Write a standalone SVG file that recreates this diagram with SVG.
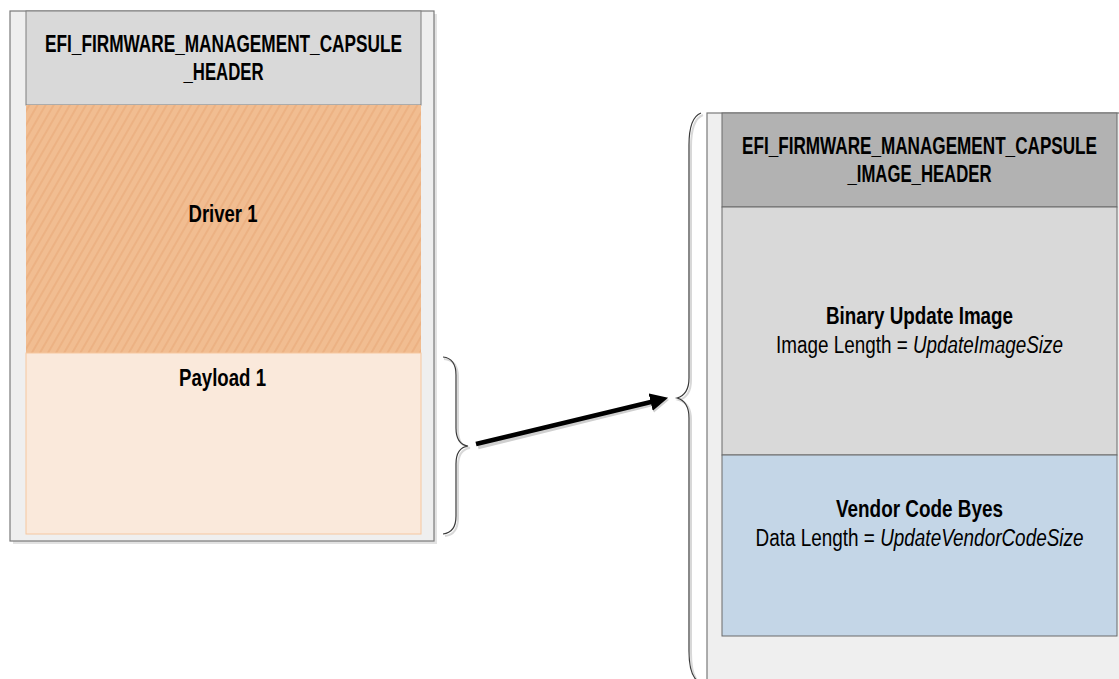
<svg xmlns="http://www.w3.org/2000/svg" width="1119" height="679" viewBox="0 0 1119 679">
<style>
.t{font-family:"Liberation Sans",Arial,sans-serif;font-size:24px;fill:#000;text-anchor:middle}
.b{font-weight:bold}
.r{font-size:23px}
.i{font-style:italic}
.outer{fill:#efefef;stroke:#7a7a7a;stroke-width:1.2}
.shadow{fill:#cfcfcf;opacity:0.6}
.brace{fill:none;stroke:#3a3a3a;stroke-width:1.2}
.braceSh{fill:none;stroke:#d8d8d8;stroke-width:2}
</style>
<defs>
<pattern id="hatch" patternUnits="userSpaceOnUse" width="7" height="12" patternTransform="rotate(30)">
<rect width="7" height="12" fill="#f1bd91"/>
<line x1="1" y1="0" x2="1" y2="12" stroke="#e8a877" stroke-width="1.6" opacity="0.7"/>
</pattern>
<marker id="ah" markerWidth="4" markerHeight="4" refX="1" refY="2" orient="auto" markerUnits="strokeWidth">
<path d="M0,0 L4,2 L0,4 Z" fill="#000"/>
</marker>
<marker id="ahs" markerWidth="4" markerHeight="4" refX="1" refY="2" orient="auto" markerUnits="strokeWidth">
<path d="M0,0 L4,2 L0,4 Z" fill="#cfcfcf"/>
</marker>
</defs>

<g id="capsule">
<rect class="shadow" x="13" y="14" width="424" height="530"/>
<rect class="outer" x="10" y="11" width="424" height="530"/>
<g id="capsule-header">
<rect x="26" y="11" width="395" height="94" fill="#d9d9d9" stroke="#7f7f7f" stroke-width="1"/>
<text class="t b" x="223.5" y="52" textLength="357" lengthAdjust="spacingAndGlyphs">EFI_FIRMWARE_MANAGEMENT_CAPSULE</text>
<text class="t b" x="223.5" y="80" textLength="80" lengthAdjust="spacingAndGlyphs">_HEADER</text>
</g>
<g id="driver1">
<rect x="26" y="105" width="395" height="248" fill="url(#hatch)"/>
<text class="t b" x="223" y="222" textLength="69" lengthAdjust="spacingAndGlyphs">Driver 1</text>
</g>
<g id="payload1">
<rect x="26" y="353" width="395" height="181" fill="#fae9db" stroke="#f6c7a0" stroke-width="1"/>
<text class="t b" x="222.5" y="386" textLength="87" lengthAdjust="spacingAndGlyphs">Payload 1</text>
</g>
</g>

<g id="image">
<rect class="outer" x="707" y="113" width="420" height="580"/>
<g id="image-header">
<rect x="722" y="113" width="395" height="94" fill="#b2b2b2" stroke="#6a6a6a" stroke-width="1"/>
<text class="t b" x="919.5" y="154" textLength="355" lengthAdjust="spacingAndGlyphs">EFI_FIRMWARE_MANAGEMENT_CAPSULE</text>
<text class="t b" x="919.5" y="182" textLength="144" lengthAdjust="spacingAndGlyphs">_IMAGE_HEADER</text>
</g>
<g id="binary">
<rect x="722" y="207" width="395" height="248" fill="#d9d9d9" stroke="#6a6a6a" stroke-width="1"/>
<text class="t b" x="919.5" y="324" textLength="187" lengthAdjust="spacingAndGlyphs">Binary Update Image</text>
<text class="t r" x="919.5" y="353" textLength="287" lengthAdjust="spacingAndGlyphs">Image Length = <tspan class="i">UpdateImageSize</tspan></text>
</g>
<g id="vendor">
<rect x="722" y="455" width="395" height="181" fill="#c4d6e7" stroke="#6a6a6a" stroke-width="1"/>
<text class="t b" x="919.5" y="517" textLength="167" lengthAdjust="spacingAndGlyphs">Vendor Code Byes</text>
<text class="t r" x="919.5" y="546" textLength="328" lengthAdjust="spacingAndGlyphs">Data Length = <tspan class="i">UpdateVendorCodeSize</tspan></text>
</g>
</g>

<g id="connectors">
<path class="braceSh" d="M444,359 C453,360 458,366 458,377 L458,430 C458,442 463,447 470,448 C463,449 458,454 458,466 L458,518 C458,529 454,535 445,536"/>
<path class="brace" d="M443,357 C452,358 456,364 456,375 L456,428 C456,440 461,445 468,446 C461,447 456,452 456,464 L456,516 C456,527 452,533 443,534"/>
<path class="braceSh" d="M703,115 C695,118 691,127 691,147 L691,380 C691,392 686,398 679,400 C686,402 691,408 691,420 L691,653 C691,673 695,682 703,685"/>
<path class="brace" d="M701,113 C693,116 689,125 689,145 L689,378 C689,390 684,396 677,398 C684,400 689,406 689,418 L689,651 C689,671 693,680 701,683"/>
<line x1="478" y1="447" x2="656" y2="403" stroke="#cfcfcf" stroke-width="4.5" marker-end="url(#ahs)"/>
<line x1="476" y1="444" x2="655" y2="401" stroke="#000" stroke-width="4.5" marker-end="url(#ah)"/>
</g>
</svg>
